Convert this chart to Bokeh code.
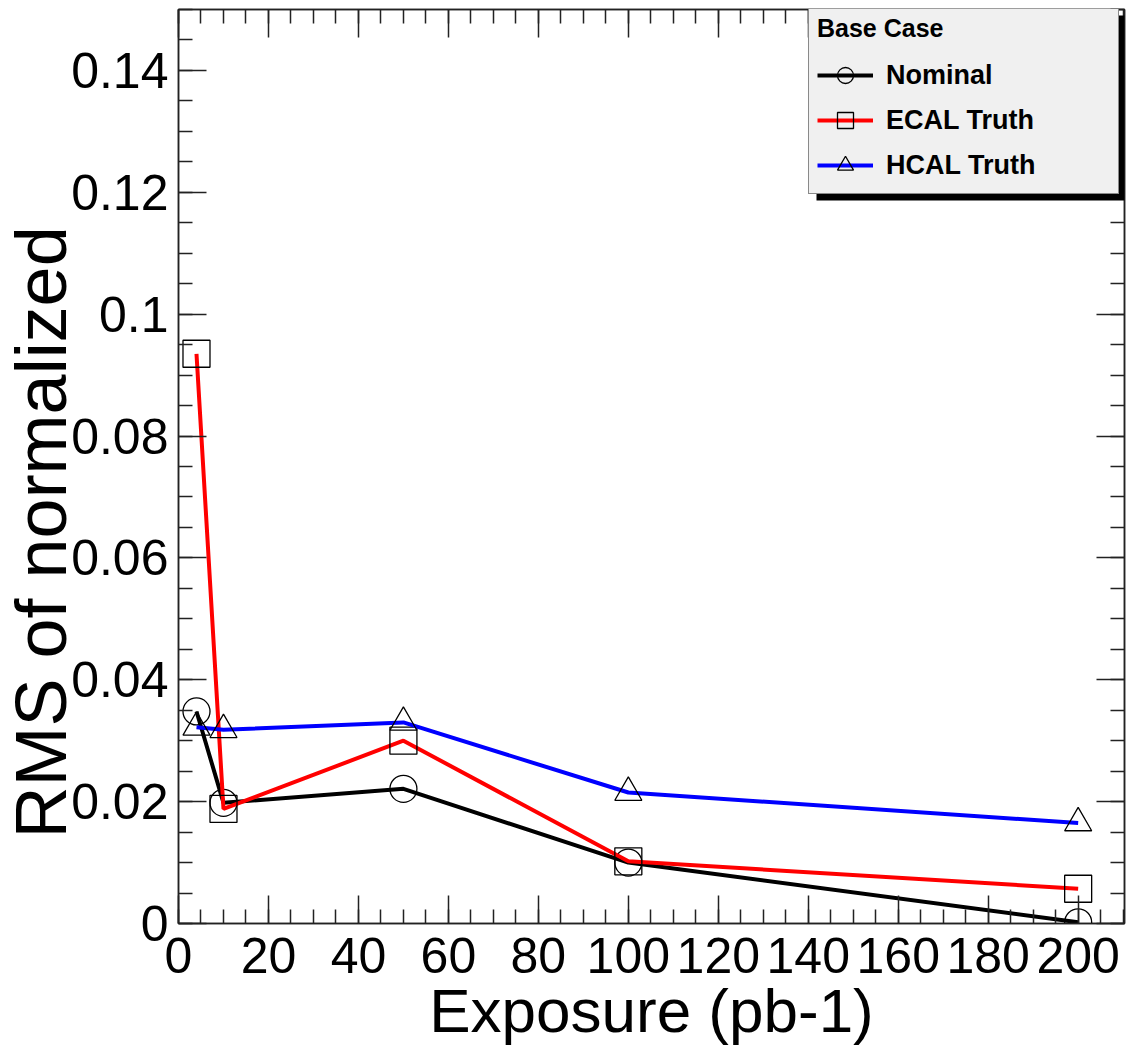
import numpy as np
from bokeh.plotting import figure
from bokeh.models import (Range1d, FixedTicker, LinearAxis, Legend, LegendItem,
                          Title, BoxAnnotation, CustomJSTickFormatter)
from bokeh.embed import file_html
from bokeh.resources import INLINE

# ---- data ----
exposure = [4, 10, 50, 100, 200]
nominal = [0.0348, 0.0198, 0.0221, 0.0100, 0.0002]
ecal_truth = [0.0935, 0.0188, 0.0300, 0.0102, 0.0057]
hcal_truth = [0.0322, 0.0318, 0.0330, 0.0215, 0.0165]

series_names = ["Nominal", "ECAL Truth", "HCAL Truth"]
legend_title = "Base Case"
x_title = "Exposure (pb-1)"
y_title = "RMS of normalized"

x_ticks = [0, 20, 40, 60, 80, 100, 120, 140, 160, 180, 200]
y_ticks = [0, 0.02, 0.04, 0.06, 0.08, 0.1, 0.12, 0.14]
y_tick_labels = ["0", "0.02", "0.04", "0.06", "0.08", "0.1", "0.12", "0.14"]

X_MAX = 210.3
Y_MAX = 0.15

FONT = "Liberation Sans"

p = figure(width=1135, height=1051, output_backend="svg", toolbar_location=None,
           x_range=Range1d(0, X_MAX), y_range=Range1d(0, Y_MAX),
           min_border_left=178, min_border_right=11, min_border_top=9,
           min_border_bottom=128, x_axis_type=None, y_axis_type=None)
p.xgrid.visible = False
p.ygrid.visible = False
p.outline_line_color = "#222222"
p.outline_line_width = 1.5
p.background_fill_color = "white"
p.border_fill_color = "white"

x_minor = list(np.arange(0, X_MAX, 5))
y_minor = list(np.round(np.arange(0, Y_MAX + 1e-9, 0.005), 4))
xt = FixedTicker(ticks=x_ticks, minor_ticks=x_minor)
yt = FixedTicker(ticks=y_ticks, minor_ticks=y_minor)
blank = CustomJSTickFormatter(code="return ''")


def style_axis(ax, labels=True):
    ax.axis_line_color = "#222222"
    ax.axis_line_width = 1.5
    ax.major_tick_line_color = "#222222"
    ax.minor_tick_line_color = "#222222"
    ax.major_tick_line_width = 1.5
    ax.minor_tick_line_width = 1.5
    ax.major_tick_in = 28
    ax.major_tick_out = 0
    ax.minor_tick_in = 14
    ax.minor_tick_out = 0
    if labels:
        ax.major_label_text_font = FONT
        ax.major_label_text_font_size = "50px"
        ax.major_label_text_color = "black"
    else:
        ax.formatter = blank
        ax.major_label_text_font_size = "1px"
        ax.major_label_standoff = 0


xb = LinearAxis(ticker=xt)
style_axis(xb)
xb.major_label_standoff = 14
xb.axis_label = x_title
xb.axis_label_text_font = FONT
xb.axis_label_text_font_size = "62px"
xb.axis_label_text_font_style = "normal"
xb.axis_label_text_color = "black"
xb.axis_label_standoff = 0
p.add_layout(xb, "below")

yl = LinearAxis(ticker=yt)
style_axis(yl)
yl.major_label_standoff = 10
yl.major_label_overrides = {t: s for t, s in zip(y_ticks, y_tick_labels)}
p.add_layout(yl, "left")

ytitle = Title(text=y_title, align="left", offset=85, standoff=-25,
               text_font=FONT, text_font_size="72px", text_font_style="normal",
               text_color="black")
p.add_layout(ytitle, "left")

xa = LinearAxis(ticker=xt)
style_axis(xa, labels=False)
p.add_layout(xa, "above")

yr = LinearAxis(ticker=yt)
style_axis(yr, labels=False)
p.add_layout(yr, "right")

# ---- series ----
items = []
for name, ys, col, mk in zip(series_names, [nominal, ecal_truth, hcal_truth],
                             ["black", "#ff0000", "#0000ff"],
                             ["circle", "square", "triangle"]):
    lr = p.line(exposure, ys, line_color=col, line_width=4)
    sr = p.scatter(exposure, ys, marker=mk, size=27, fill_color=None,
                   line_color="black", line_width=1.3)
    items.append(LegendItem(label=name, renderers=[lr, sr]))

# legend shadow
shadow = BoxAnnotation(left=(816 - 178) / 946 * X_MAX, right=X_MAX,
                       top=(923 - 15) / 914 * Y_MAX, bottom=(923 - 200) / 914 * Y_MAX,
                       fill_color="black", fill_alpha=1.0, line_color=None)
p.add_layout(shadow)

legend = Legend(items=items, location=(630, 729), title=legend_title)
legend.title_text_font = FONT
legend.title_text_font_style = "bold"
legend.title_text_font_size = "25px"
legend.title_text_color = "black"
legend.title_standoff = 12
legend.label_text_font = FONT
legend.label_text_font_style = "bold"
legend.label_text_font_size = "27px"
legend.label_text_color = "black"
legend.glyph_width = 56
legend.glyph_height = 40
legend.label_height = 40
legend.label_standoff = 13
legend.label_width = 224
legend.spacing = 5
legend.padding = 8
legend.margin = 0
legend.border_line_color = "#222222"
legend.border_line_width = 1.5
legend.background_fill_color = "#f0f0f0"
legend.background_fill_alpha = 1.0
p.add_layout(legend)

open("out.html", "w").write(file_html(p, INLINE))
